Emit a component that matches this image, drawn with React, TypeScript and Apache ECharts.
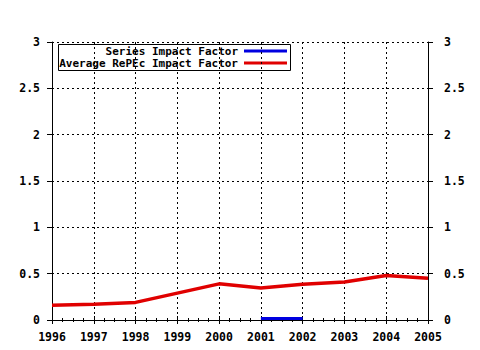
import React, { useEffect, useRef } from "react";
import * as echarts from "echarts";

const years = [1996, 1997, 1998, 1999, 2000, 2001, 2002, 2003, 2004, 2005];
const averageRePEc = [0.16, 0.17, 0.19, 0.29, 0.39, 0.345, 0.385, 0.41, 0.48, 0.45];
const seriesYears = [2001, 2002];
const seriesImpact = [0.015, 0.015];
const legendLabels = ["Series Impact Factor", "Average RePEc Impact Factor"];
const colors = ["#0000e0", "#e00000"];

const FONT = "DejaVu Sans Mono";

export default function App() {
  const ref = useRef<HTMLDivElement>(null);
  useEffect(() => {
    if (!ref.current) return;
    const chart = echarts.init(ref.current, undefined, { renderer: "svg" });
    const axisLabel = { color: "#000", fontFamily: FONT, fontWeight: "bold", fontSize: 11.5 };
    const xCommon = {
      type: "value",
      min: 1996,
      max: 2005,
      interval: 1,
      axisLine: { show: true, lineStyle: { color: "#000", width: 1 } },
      axisTick: { show: true, length: 4, lineStyle: { color: "#000" } },
      minorTick: { show: true, splitNumber: 4, length: 2, lineStyle: { color: "#000" } },
    };
    const yCommon = {
      type: "value",
      min: 0,
      max: 3,
      interval: 0.5,
      axisLine: { show: true, lineStyle: { color: "#000", width: 1 } },
      axisTick: { show: true, length: 5, lineStyle: { color: "#000" } },
    };
    chart.setOption({
      animation: false,
      backgroundColor: "#fff",
      grid: { left: 52, right: 52, top: 42, bottom: 30, containLabel: false },
      xAxis: [
        {
          ...xCommon,
          position: "bottom",
          axisLabel: { ...axisLabel, margin: 11, formatter: (v: number) => String(v) },
          splitLine: { show: true, lineStyle: { color: "#000", type: [2, 3], width: 1 } },
        },
        {
          ...xCommon,
          position: "top",
          axisLabel: { show: false },
          splitLine: { show: false },
        },
      ],
      yAxis: [
        {
          ...yCommon,
          position: "left",
          axisLabel: { ...axisLabel, margin: 12 },
          splitLine: { show: true, lineStyle: { color: "#000", type: [2, 3], width: 1 } },
        },
        {
          ...yCommon,
          position: "right",
          axisLabel: { ...axisLabel, margin: 16, align: "left" },
          splitLine: { show: false },
        },
      ],
      series: [
        {
          name: legendLabels[0],
          type: "line",
          data: seriesYears.map((y, i) => [y, seriesImpact[i]]),
          showSymbol: false,
          lineStyle: { color: colors[0], width: 3 },
          z: 3,
        },
        {
          name: legendLabels[1],
          type: "line",
          data: years.map((y, i) => [y, averageRePEc[i]]),
          showSymbol: false,
          lineStyle: { color: colors[1], width: 3.5 },
          z: 4,
        },
      ],
      graphic: [
        {
          type: "group",
          z: 100,
          children: [
            {
              type: "rect",
              shape: { x: 58.5, y: 44.5, width: 232, height: 26 },
              style: { fill: "#fff", stroke: "#000", lineWidth: 1 },
            },
            ...legendLabels.map((t, i) => ({
              type: "text",
              x: 238,
              y: 51.5 + i * 12,
              style: {
                text: t,
                fill: "#000",
                font: `bold 11px "${FONT}"`,
                textAlign: "right",
                textVerticalAlign: "middle",
              },
            })),
            ...legendLabels.map((_, i) => ({
              type: "line",
              shape: { x1: 244, y1: 51 + i * 12, x2: 287, y2: 51 + i * 12 },
              style: { stroke: colors[i], lineWidth: 3 },
            })),
          ],
        },
      ],
    });
    return () => chart.dispose();
  }, []);
  return (
    <div
      ref={ref}
      style={{ position: "fixed", left: 0, top: 0, width: 480, height: 350, background: "#fff" }}
    />
  );
}
